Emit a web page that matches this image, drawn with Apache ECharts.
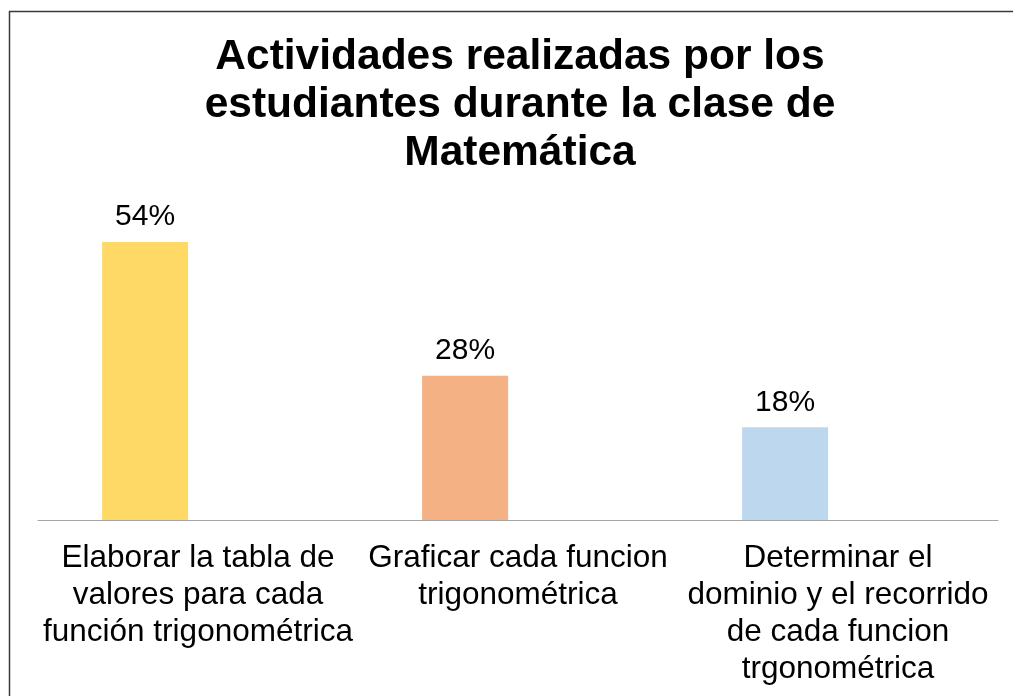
<!DOCTYPE html>
<html>
<head>
<meta charset="utf-8">
<style>
  html, body { margin: 0; padding: 0; background: #ffffff; }
  #chart { width: 1013px; height: 696px; }
</style>
<script src="https://cdn.jsdelivr.net/npm/echarts@6/dist/echarts.min.js"></script>
</head>
<body>
<div id="chart"></div>
<script>
const titleText = 'Actividades realizadas por los\nestudiantes durante la clase de\nMatemática';
const categories = [
  'Elaborar la tabla de\nvalores para cada\nfunción trigonométrica',
  'Graficar cada funcion\ntrigonométrica',
  'Determinar el\ndominio y el recorrido\nde cada funcion\ntrgonométrica'
];
const values = [54, 28, 18];
const barColors = ['#FFD966', '#F4B183', '#BDD7EE'];

const FONT = "'Liberation Sans', Arial, sans-serif";
const chart = echarts.init(document.getElementById('chart'), null, { renderer: 'canvas' });

chart.setOption({
  backgroundColor: '#ffffff',
  animation: false,
  graphic: [
    {
      type: 'text',
      x: 520,
      y: 33,
      silent: true,
      style: {
        text: titleText,
        textAlign: 'center',
        textVerticalAlign: 'top',
        fontFamily: FONT,
        fontSize: 42.5,
        fontWeight: 'bold',
        lineHeight: 48,
        fill: '#000000'
      }
    },
    {
      type: 'rect',
      shape: { x: 9.5, y: 11.5, width: 1010, height: 700 },
      style: { fill: 'none', stroke: '#3a3a3a', lineWidth: 1.5 },
      silent: true,
      z: 100
    }
  ],
  grid: { left: 38, right: 15, top: 211, bottom: 176, containLabel: false },
  xAxis: {
    type: 'category',
    data: categories,
    axisLine: { show: true, lineStyle: { color: '#A6A6A6', width: 1 } },
    axisTick: { show: false },
    axisLabel: {
      interval: 0,
      margin: 20,
      fontFamily: FONT,
      fontSize: 31.5,
      lineHeight: 37,
      color: '#000000',
      align: 'center'
    }
  },
  yAxis: {
    type: 'value',
    min: 0,
    max: 60,
    show: false,
    splitLine: { show: false }
  },
  series: [
    {
      type: 'bar',
      barWidth: 86,
      barGap: '23%',
      data: values.map((v, i) => ({ value: v, itemStyle: { color: barColors[i] } })),
      label: {
        show: true,
        position: 'top',
        distance: 10,
        formatter: '{c}%',
        fontFamily: FONT,
        fontSize: 30,
        color: '#000000'
      }
    },
    {
      type: 'bar',
      barWidth: 86,
      barGap: '23%',
      data: values.map(() => null)
    }
  ]
});
</script>
</body>
</html>
